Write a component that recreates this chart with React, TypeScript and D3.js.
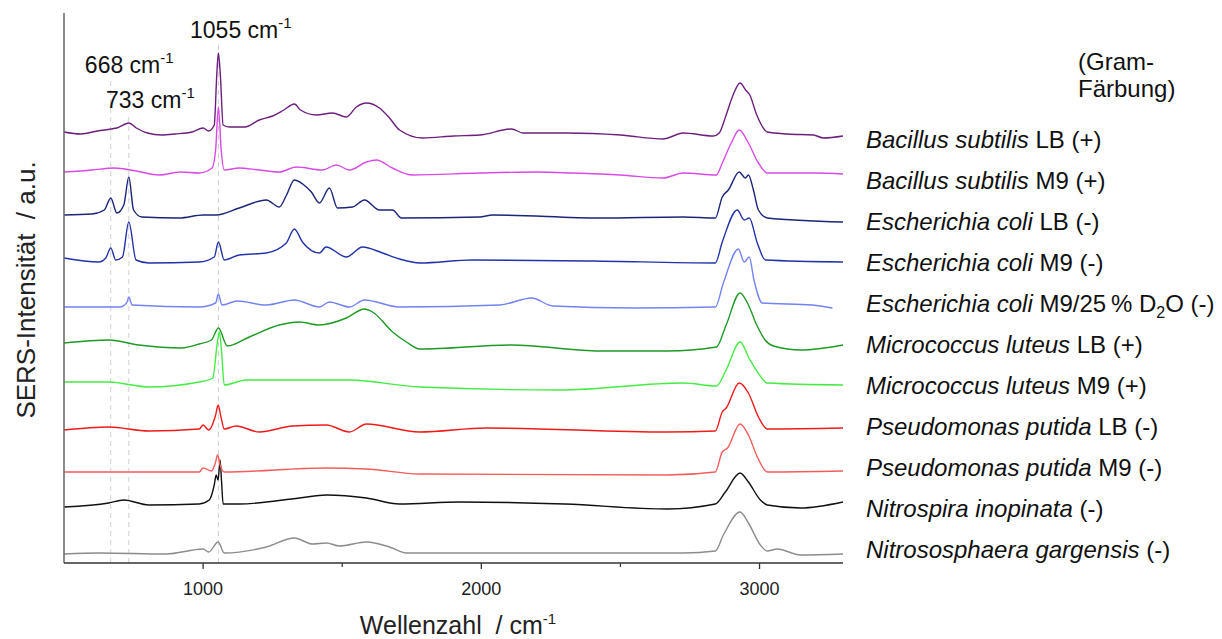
import React from 'react';
import * as d3 from 'd3';

// ---------- data (wavenumber / cm-1, stacked SERS intensity / a.u.) ----------
const wavenumberTicks = [1000, 2000, 3000];
const minorTicks = [1500, 2500];
const markerPositions = [668, 733, 1055];
const markerTops = [48.5, 45.0, 52.1];
const markerLabels = ['668', '733', '1055'];
const markerLabelAnchors: [number, number][] = [[575, 49.0], [651, 45.5], [953, 52.5]];

const bacillusLB: [number, number][] = [
  [500, 43.1], [560, 42.9], [620, 43.2], [668, 43.4], [690, 43.5], [733, 44.0], [760, 43.5], [800, 43.0],
  [850, 42.8], [900, 42.9], [960, 43.1], [1000, 43.5], [1020, 43.2], [1040, 43.8], [1050, 49.3], [1055, 51.0],
  [1062, 48.8], [1072, 43.8], [1094, 43.6], [1150, 43.6], [1202, 44.3], [1250, 44.7], [1290, 45.3], [1328, 45.9],
  [1350, 45.3], [1407, 44.8], [1465, 45.0], [1515, 44.6], [1551, 45.6], [1587, 46.0], [1634, 45.5], [1670, 44.5],
  [1706, 43.3], [1789, 42.5], [1900, 42.7], [1994, 42.8], [2109, 43.4], [2150, 43.0], [2307, 43.0], [2500, 42.8],
  [2653, 42.4], [2726, 43.0], [2834, 42.7], [2855, 43.0], [2880, 44.8], [2905, 46.8], [2930, 48.0], [2950, 47.3],
  [2965, 46.8], [2990, 44.8], [3028, 43.1], [3100, 42.9], [3194, 42.8], [3230, 42.5], [3300, 42.7],
];
const bacillusM9: [number, number][] = [
  [500, 39.1], [600, 39.3], [679, 39.5], [760, 39.2], [841, 38.8], [920, 39.1], [986, 39.0], [1032, 39.5],
  [1045, 41.3], [1055, 45.6], [1065, 41.3], [1076, 39.3], [1130, 39.5], [1200, 39.3], [1274, 39.1], [1335, 39.6],
  [1429, 39.3], [1479, 39.8], [1526, 39.3], [1587, 40.1], [1623, 40.3], [1680, 39.5], [1753, 38.8], [1994, 39.0],
  [2200, 39.1], [2329, 39.0], [2500, 38.8], [2653, 38.5], [2726, 39.0], [2845, 38.8], [2866, 40.0], [2900, 42.1],
  [2927, 43.3], [2960, 42.0], [2996, 40.0], [3028, 39.0], [3200, 39.0], [3300, 38.9],
];
const ecoliLB: [number, number][] = [
  [500, 34.8], [600, 34.9], [645, 35.3], [668, 36.5], [690, 35.0], [715, 35.8], [733, 38.6], [750, 35.3],
  [780, 34.6], [914, 34.5], [1000, 34.8], [1047, 34.8], [1130, 35.5], [1227, 36.3], [1274, 35.6], [1300, 36.8],
  [1328, 38.3], [1371, 37.6], [1389, 37.1], [1418, 36.0], [1454, 37.5], [1483, 35.5], [1537, 35.6], [1580, 36.3],
  [1634, 35.3], [1681, 35.3], [1713, 34.5], [1994, 34.6], [2041, 34.8], [2427, 34.5], [2726, 34.6], [2841, 34.5],
  [2866, 36.6], [2888, 37.3], [2927, 39.1], [2949, 38.5], [2960, 38.8], [2978, 37.3], [2996, 35.3], [3028, 34.5],
  [3300, 34.1],
];
const ecoliM9: [number, number][] = [
  [500, 30.5], [625, 30.1], [650, 30.5], [668, 31.5], [686, 30.3], [710, 30.6], [733, 34.1], [759, 30.3],
  [805, 30.0], [986, 30.1], [1040, 30.6], [1055, 32.1], [1076, 30.3], [1130, 30.8], [1227, 31.0], [1299, 32.0],
  [1328, 33.4], [1357, 32.1], [1418, 31.0], [1442, 31.6], [1515, 30.6], [1573, 31.6], [1645, 31.0], [1706, 30.4],
  [1778, 30.0], [1969, 30.3], [2400, 30.2], [2841, 30.0], [2866, 32.1], [2920, 35.3], [2945, 34.3], [2963, 34.5],
  [2992, 32.0], [3021, 30.3], [3300, 30.1],
];
const ecoliD2O: [number, number][] = [
  [500, 25.6], [700, 25.6], [725, 26.0], [733, 26.6], [745, 25.8], [986, 25.6], [1045, 26.0], [1055, 26.9],
  [1068, 25.8], [1123, 26.2], [1227, 25.8], [1328, 26.3], [1418, 25.6], [1454, 26.1], [1526, 25.6], [1580, 26.3],
  [1706, 25.6], [2066, 25.8], [2181, 26.5], [2257, 25.7], [2545, 25.5], [2841, 25.6], [2870, 28.0], [2924, 31.4],
  [2945, 30.1], [2963, 30.6], [2980, 28.3], [3010, 26.0], [3190, 25.8], [3262, 25.5],
];
const micrococcusLB: [number, number][] = [
  [500, 22.0], [661, 22.3], [769, 21.8], [924, 21.5], [986, 21.9], [1030, 22.3], [1055, 23.5], [1087, 21.7],
  [1166, 22.6], [1274, 23.8], [1346, 24.1], [1418, 23.8], [1515, 24.5], [1580, 25.4], [1609, 25.1], [1681, 23.1],
  [1731, 22.1], [1778, 21.4], [2109, 21.8], [2427, 21.2], [2668, 21.2], [2845, 21.6], [2880, 23.8], [2930, 27.0],
  [2960, 25.8], [2990, 23.8], [3020, 22.3], [3050, 21.7], [3150, 21.3], [3300, 21.8],
];
const micrococcusM9: [number, number][] = [
  [500, 18.1], [661, 18.1], [805, 17.6], [986, 18.1], [1035, 18.5], [1050, 21.8], [1058, 23.1], [1066, 21.3],
  [1076, 17.8], [1155, 18.3], [1526, 18.3], [1778, 17.6], [2282, 17.3], [2726, 18.0], [2845, 17.7], [2880, 19.3],
  [2930, 22.1], [2962, 20.5], [3000, 18.8], [3028, 18.0], [3300, 17.8],
];
const pseudomonasLB: [number, number][] = [
  [500, 13.3], [661, 13.6], [805, 13.2], [986, 13.4], [1000, 13.8], [1020, 13.3], [1045, 14.8], [1054, 15.8],
  [1065, 14.5], [1076, 13.4], [1119, 13.7], [1202, 13.1], [1321, 13.7], [1443, 13.8], [1526, 13.1], [1587, 13.9],
  [1778, 13.1], [2019, 13.5], [2668, 13.1], [2841, 13.2], [2866, 15.1], [2880, 15.5], [2927, 18.0], [2960, 17.0],
  [2996, 14.6], [3028, 13.4], [3300, 13.5],
];
const pseudomonasM9: [number, number][] = [
  [500, 9.1], [986, 9.1], [1000, 9.5], [1030, 9.2], [1045, 10.1], [1052, 10.8], [1062, 9.7], [1076, 9.1],
  [1443, 9.5], [1587, 9.4], [1778, 8.9], [2668, 8.8], [2841, 9.1], [2866, 11.1], [2885, 11.5], [2930, 13.9],
  [2960, 12.8], [2992, 10.6], [3028, 9.1], [3300, 9.2],
];
const nitrospira: [number, number][] = [
  [500, 5.6], [661, 6.0], [715, 6.3], [805, 5.8], [986, 5.9], [1022, 6.3], [1040, 7.8], [1047, 8.8],
  [1054, 8.3], [1061, 10.3], [1066, 8.3], [1072, 5.9], [1130, 5.9], [1346, 6.5], [1443, 6.8], [1587, 6.5],
  [1706, 5.9], [1922, 6.1], [2300, 5.9], [2668, 5.4], [2841, 5.9], [2877, 7.1], [2930, 9.0], [2960, 8.1],
  [3003, 6.3], [3028, 5.8], [3147, 5.5], [3300, 6.1],
];
const nitrososphaera: [number, number][] = [
  [500, 0.9], [625, 1.0], [867, 0.9], [1000, 1.4], [1020, 1.1], [1054, 2.1], [1076, 1.0], [1227, 1.6],
  [1328, 2.5], [1393, 1.9], [1443, 2.0], [1490, 1.7], [1587, 2.1], [1670, 1.6], [1731, 1.0], [2185, 1.0],
  [2726, 1.0], [2841, 1.2], [2870, 2.8], [2930, 5.1], [2960, 4.0], [3003, 1.8], [3028, 1.2], [3064, 1.4],
  [3147, 0.8], [3300, 0.9],
];

const spectra = [
  bacillusLB, bacillusM9, ecoliLB, ecoliM9, ecoliD2O, micrococcusLB,
  micrococcusM9, pseudomonasLB, pseudomonasM9, nitrospira, nitrososphaera,
];
const speciesNames = [
  'Bacillus subtilis', 'Bacillus subtilis', 'Escherichia coli', 'Escherichia coli', 'Escherichia coli',
  'Micrococcus luteus', 'Micrococcus luteus', 'Pseudomonas putida', 'Pseudomonas putida',
  'Nitrospira inopinata', 'Nitrososphaera gargensis',
];
const mediaLabels = [' LB (+)', ' M9 (+)', ' LB (-)', ' M9 (-)', ' M9/25\u2009% D', ' LB (+)', ' M9 (+)', ' LB (-)', ' M9 (-)', ' (-)', ' (-)'];
const colors = [
  '#6c1f7c', '#d84ae6', '#1b2579', '#2233a8', '#7283f2', '#1f9a24',
  '#44ec44', '#f01a1a', '#f45c5c', '#111111', '#8c8c8c',
];

// ---------- layout ----------
const W = 1222;
const H = 639;
const left = 64;
const right = 843;
const top = 13;
const bottom = 563;
const font = '"Liberation Sans", Arial, Helvetica, sans-serif';

export default function App() {
  const x = d3.scaleLinear().domain([500, 3300]).range([left, right]);
  const y = d3.scaleLinear().domain([0, 55]).range([bottom, top]);
  const line = d3
    .line<[number, number]>()
    .x((d) => x(d[0]))
    .y((d) => y(d[1]))
    .curve(d3.curveMonotoneX);

  const order = spectra.map((_, i) => spectra.length - 1 - i);

  return (
    <svg
      width={W}
      height={H}
      viewBox={`0 0 ${W} ${H}`}
      style={{ position: 'absolute', left: 0, top: 0, background: '#fff' }}
      fontFamily={font}
    >
      <rect x={0} y={0} width={W} height={H} fill="#fff" />
      {/* marker lines */}
      {markerPositions.map((m, i) => (
        <line
          key={m}
          x1={x(m)}
          x2={x(m)}
          y1={y(0)}
          y2={y(markerTops[i])}
          stroke="#cfcfcf"
          strokeWidth={1}
          strokeDasharray="5,4"
        />
      ))}
      {/* spectra */}
      {order.map((i) => (
        <path key={i} d={line(spectra[i]) || ''} fill="none" stroke={colors[i]} strokeWidth={1.4} strokeLinejoin="round" />
      ))}
      {/* axes */}
      <line x1={left} x2={left} y1={top} y2={bottom} stroke="#666" strokeWidth={1.5} />
      <line x1={left} x2={right} y1={bottom} y2={bottom} stroke="#333" strokeWidth={1.5} />
      {wavenumberTicks.map((t) => (
        <g key={t}>
          <line x1={x(t)} x2={x(t)} y1={bottom} y2={bottom + 6} stroke="#333" strokeWidth={1.3} />
          <text x={x(t)} y={bottom + 32} textAnchor="middle" fontSize={18} fill="#222">
            {t}
          </text>
        </g>
      ))}
      {minorTicks.map((t) => (
        <line key={t} x1={x(t)} x2={x(t)} y1={bottom} y2={bottom + 4} stroke="#333" strokeWidth={1.2} />
      ))}
      {/* axis titles */}
      <text x={458} y={634} textAnchor="middle" fontSize={25} fill="#222" style={{ whiteSpace: 'pre' }}>
        {'Wellenzahl  / cm'}
        <tspan fontSize={15} dy={-10}>-1</tspan>
      </text>
      <text
        transform="translate(35,290) rotate(-90)"
        textAnchor="middle"
        fontSize={26}
        fill="#222"
        style={{ whiteSpace: 'pre' }}
      >
        {'SERS-Intensität  / a.u.'}
      </text>
      {/* peak annotations */}
      {markerLabels.map((lab, i) => (
        <text key={lab} x={x(markerLabelAnchors[i][0])} y={y(markerLabelAnchors[i][1])} fontSize={23} fill="#111">
          {lab + ' cm'}
          <tspan fontSize={15} dy={-10}>-1</tspan>
        </text>
      ))}
      {/* legend */}
      <text x={1078} y={70} fontSize={24} fill="#111">(Gram-</text>
      <text x={1078} y={97} fontSize={24} fill="#111">Färbung)</text>
      {speciesNames.map((s, i) => (
        <text key={i} x={866} y={148 + 41 * i} fontSize={24} fill="#111" style={{ whiteSpace: 'pre' }}>
          <tspan fontStyle="italic">{s}</tspan>
          <tspan>{mediaLabels[i]}</tspan>
          {i === 4 ? (
            <>
              <tspan fontSize={16} dy={6}>2</tspan>
              <tspan dy={-6}>O (-)</tspan>
            </>
          ) : null}
        </text>
      ))}
    </svg>
  );
}
